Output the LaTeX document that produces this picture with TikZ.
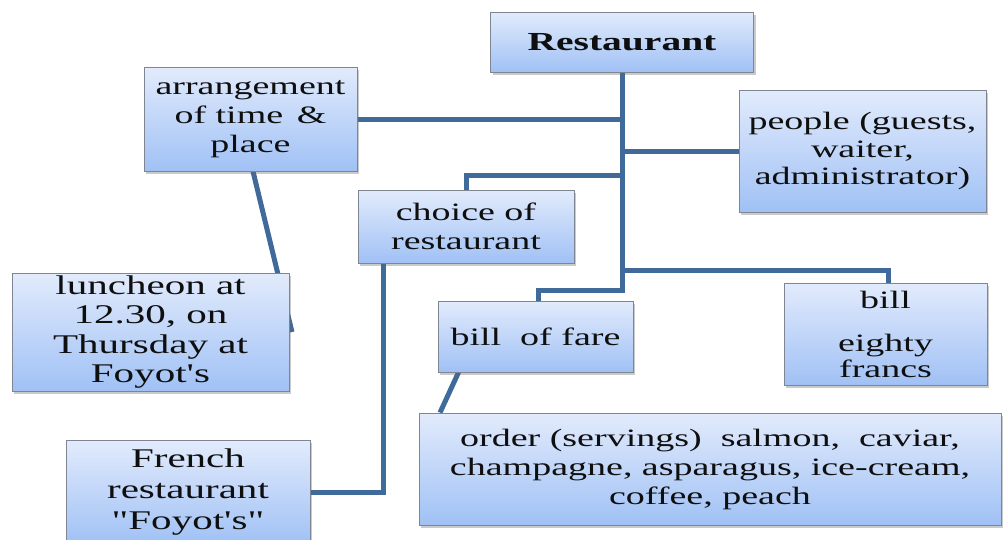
\documentclass[tikz,border=0pt]{standalone}
\usepackage{fontspec}
\setmainfont{Liberation Serif}[FakeStretch=1.52, Ligatures=TeXOff]
\usetikzlibrary{shadows,backgrounds}
\definecolor{linkc}{RGB}{64,106,154}
\definecolor{boxtop}{RGB}{226,235,252}
\definecolor{boxbot}{RGB}{160,193,245}
\definecolor{boxedge}{RGB}{128,134,145}
\definecolor{txt}{RGB}{15,15,15}
\tikzset{
  box/.style={draw=boxedge, line width=0.8pt, top color=boxtop, bottom color=boxbot,
    inner sep=0pt, align=center, text=txt,
    drop shadow={shadow xshift=2pt, shadow yshift=-2.5pt, opacity=0.35, fill=black!60},
    font=\fontsize{25}{29}\selectfont},
  conn/.style={draw=linkc, line width=5pt, line join=miter},
}
\begin{document}
\begin{tikzpicture}[x=1pt,y=1pt]
\useasboundingbox (0,0) rectangle (1003,-539);
\node[box, minimum width=263pt, minimum height=60pt, font=\fontsize{26}{30}\selectfont\bfseries] (R) at (622,-42) {Restaurant};
\node[box, minimum width=213pt, minimum height=104pt] (A) at (250.5,-119) {arrangement\\of time \,\&\\place};
\node[box, minimum width=247pt, minimum height=122pt, font=\fontsize{25}{27.5}\selectfont] (P) at (862.5,-151) {people (guests,\\waiter,\\administrator)};
\node[box, minimum width=216pt, minimum height=73pt] (C) at (466,-226.5) {choice of\\restaurant};
\node[box, minimum width=277pt, minimum height=118pt, font=\fontsize{27}{29.5}\selectfont] (L) at (150.5,-332) {luncheon at\\12.30, on\\Thursday at\\Foyot's};
\node[box, minimum width=244pt, minimum height=104pt, font=\fontsize{27}{31}\selectfont] (F) at (188,-492) {French\\restaurant\\"Foyot's"};
\node[box, minimum width=195pt, minimum height=71pt] (BF) at (535.5,-336.5) {bill \ of fare};
\node[box, minimum width=203pt, minimum height=102pt, font=\fontsize{25}{26}\selectfont] (B) at (885.5,-334) {bill\\[17pt]eighty\\francs};
\node[box, minimum width=582pt, minimum height=112pt, font=\fontsize{25}{29}\selectfont] (O) at (710,-469) {order (servings) \ salmon, \ caviar,\\champagne, asparagus, ice-cream,\\coffee, peach};
\coordinate (tBot) at (622,-290);
\coordinate (jC) at (622,-175);
\coordinate (jB) at (622,-270);
\coordinate (aEnd) at (292,-332);
\begin{scope}[on background layer]
\draw[conn] (R.south) -- (tBot) -| ([xshift=2.5pt]BF.north);
\draw[conn] (A.east) -- (A.east -| R.south);
\draw[conn] (P.west) -- (P.west -| R.south);
\draw[conn] (jC) -| (C.north);
\draw[conn] (jB) -| ([xshift=2.5pt]B.north);
\draw[conn] ([xshift=2.5pt]A.south) -- (aEnd);
\draw[conn] ([xshift=-83pt]C.south) |- (F.east);
\draw[conn] ([xshift=-77pt]BF.south) -- ([xshift=-270pt]O.north);
\end{scope}
\end{tikzpicture}
\end{document}
